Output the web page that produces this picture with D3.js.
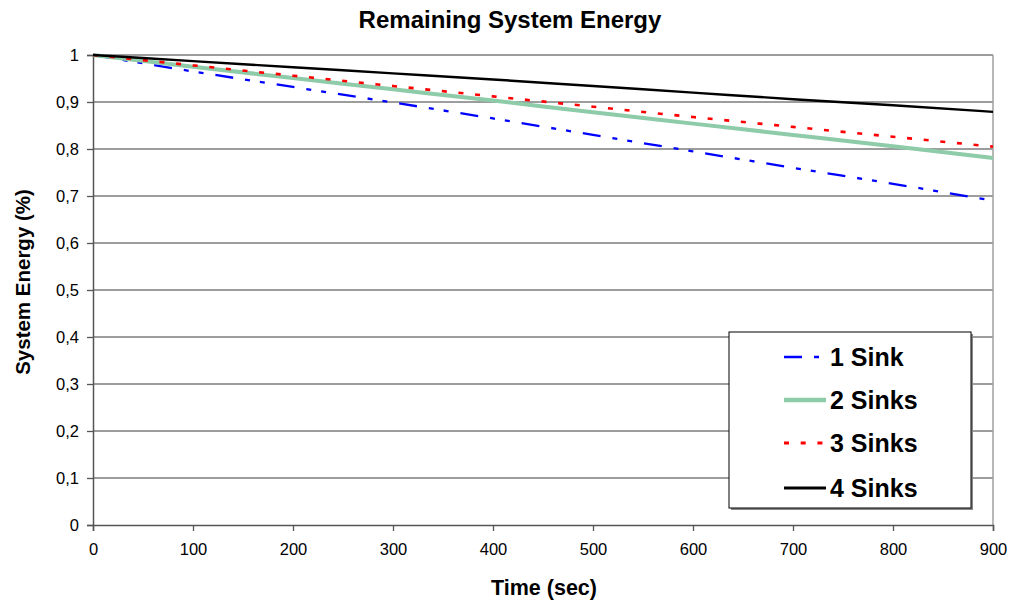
<!DOCTYPE html>
<html>
<head>
<meta charset="utf-8">
<script src="https://cdn.jsdelivr.net/npm/d3@7"></script>
<style>
  body { margin: 0; background: #fff; }
  text { font-family: "Liberation Sans", Arial, sans-serif; }
</style>
</head>
<body>
<div id="chart"></div>
<script>
// time in seconds
const times = [0, 100, 200, 300, 400, 500, 600, 700, 800, 900];
const sink1 = [1, 0.965, 0.932, 0.899, 0.865, 0.830, 0.795, 0.760, 0.726, 0.690];
const sink2 = [1, 0.975, 0.951, 0.927, 0.903, 0.878, 0.854, 0.830, 0.806, 0.781];
const sink3 = [1, 0.978, 0.956, 0.934, 0.912, 0.890, 0.868, 0.847, 0.826, 0.805];
const sink4 = [1, 0.987, 0.974, 0.961, 0.948, 0.934, 0.920, 0.906, 0.893, 0.879];
const seriesNames = ["1 Sink", "2 Sinks", "3 Sinks", "4 Sinks"];
const yTicks = [0, 0.1, 0.2, 0.3, 0.4, 0.5, 0.6, 0.7, 0.8, 0.9, 1];
const xTicks = [0, 100, 200, 300, 400, 500, 600, 700, 800, 900];

function init() {
    const w = 1013;
    const h = 601;
    const left = 93, right = 993, top = 55, bottom = 525;

    var svg = d3.select("#chart").append("svg").attr("width", w).attr("height", h);

    var xScale = d3.scaleLinear().domain([0, 900]).range([left, right]);
    var yScale = d3.scaleLinear().domain([0, 1]).range([bottom, top]);

    // gridlines
    svg.append("g")
        .selectAll("line")
        .data(yTicks.filter(d => d > 0))
        .enter().append("line")
        .attr("x1", left).attr("x2", right)
        .attr("y1", d => yScale(d)).attr("y2", d => yScale(d))
        .attr("stroke", "#3a3a3a").attr("stroke-width", 1);

    // right border
    svg.append("line")
        .attr("x1", right).attr("x2", right)
        .attr("y1", top).attr("y2", bottom)
        .attr("stroke", "#a0a0a0").attr("stroke-width", 1.5);

    // axes
    var xAxis = d3.axisBottom(xScale).tickValues(xTicks).tickSize(6).tickPadding(12);
    var yAxis = d3.axisLeft(yScale).tickValues(yTicks).tickSize(6).tickPadding(8)
        .tickFormat(d => d3.format(".1~f")(d).replace(".", ","));

    var gx = svg.append("g")
        .attr("transform", "translate(0," + bottom + ")")
        .call(xAxis);
    var gy = svg.append("g")
        .attr("transform", "translate(" + left + ",0)")
        .call(yAxis);

    [gx, gy].forEach(g => {
        g.select(".domain").attr("stroke", "#555").attr("stroke-width", 1.5);
        g.selectAll(".tick line").attr("stroke", "#555").attr("stroke-width", 1.3);
        g.selectAll("text").attr("font-size", 16.5).attr("fill", "#000")
            .style("font-family", "Liberation Sans, Arial, sans-serif");
    });

    // series
    const styles = [
        { data: sink1, color: "#0000ff", width: 2.3, dash: "18,12,5,10,5,12" },
        { data: sink2, color: "#8ecba9", width: 4, dash: null },
        { data: sink3, color: "#ff0000", width: 2.6, dash: "5,11.7" },
        { data: sink4, color: "#000000", width: 2.4, dash: null }
    ];

    var line = d3.line()
        .x((d, i) => xScale(times[i]))
        .y(d => yScale(d))
        .curve(d3.curveMonotoneX);

    styles.forEach(s => {
        svg.append("path")
            .datum(s.data)
            .attr("fill", "none")
            .attr("stroke", s.color)
            .attr("stroke-width", s.width)
            .attr("stroke-dasharray", s.dash)
            .attr("d", line);
    });

    // legend
    var lg = svg.append("g");
    lg.append("rect")
        .attr("x", 731).attr("y", 334).attr("width", 242).attr("height", 176)
        .attr("fill", "#888");
    lg.append("rect")
        .attr("x", 729).attr("y", 332).attr("width", 242).attr("height", 176)
        .attr("fill", "#fff").attr("stroke", "#000").attr("stroke-width", 1);

    const legendY = [357, 400, 443, 488];
    styles.forEach((s, i) => {
        lg.append("line")
            .attr("x1", 784).attr("x2", 826)
            .attr("y1", legendY[i]).attr("y2", legendY[i])
            .attr("stroke", s.color)
            .attr("stroke-width", s.width + 0.4)
            .attr("stroke-dasharray", s.dash);
        lg.append("text")
            .attr("x", 830).attr("y", legendY[i] + 9)
            .attr("font-size", 25).attr("font-weight", "bold")
            .text(seriesNames[i]);
    });

    // titles
    svg.append("text")
        .attr("x", 510).attr("y", 28)
        .attr("text-anchor", "middle")
        .attr("font-size", 24).attr("font-weight", "bold")
        .text("Remaining System Energy");

    svg.append("text")
        .attr("x", 544).attr("y", 595)
        .attr("text-anchor", "middle")
        .attr("font-size", 21.5).attr("font-weight", "bold")
        .text("Time (sec)");

    svg.append("text")
        .attr("transform", "translate(30,282) rotate(-90)")
        .attr("text-anchor", "middle")
        .attr("font-size", 20.5).attr("font-weight", "bold")
        .text("System Energy (%)");
}

window.onload = init();
</script>
</body>
</html>
